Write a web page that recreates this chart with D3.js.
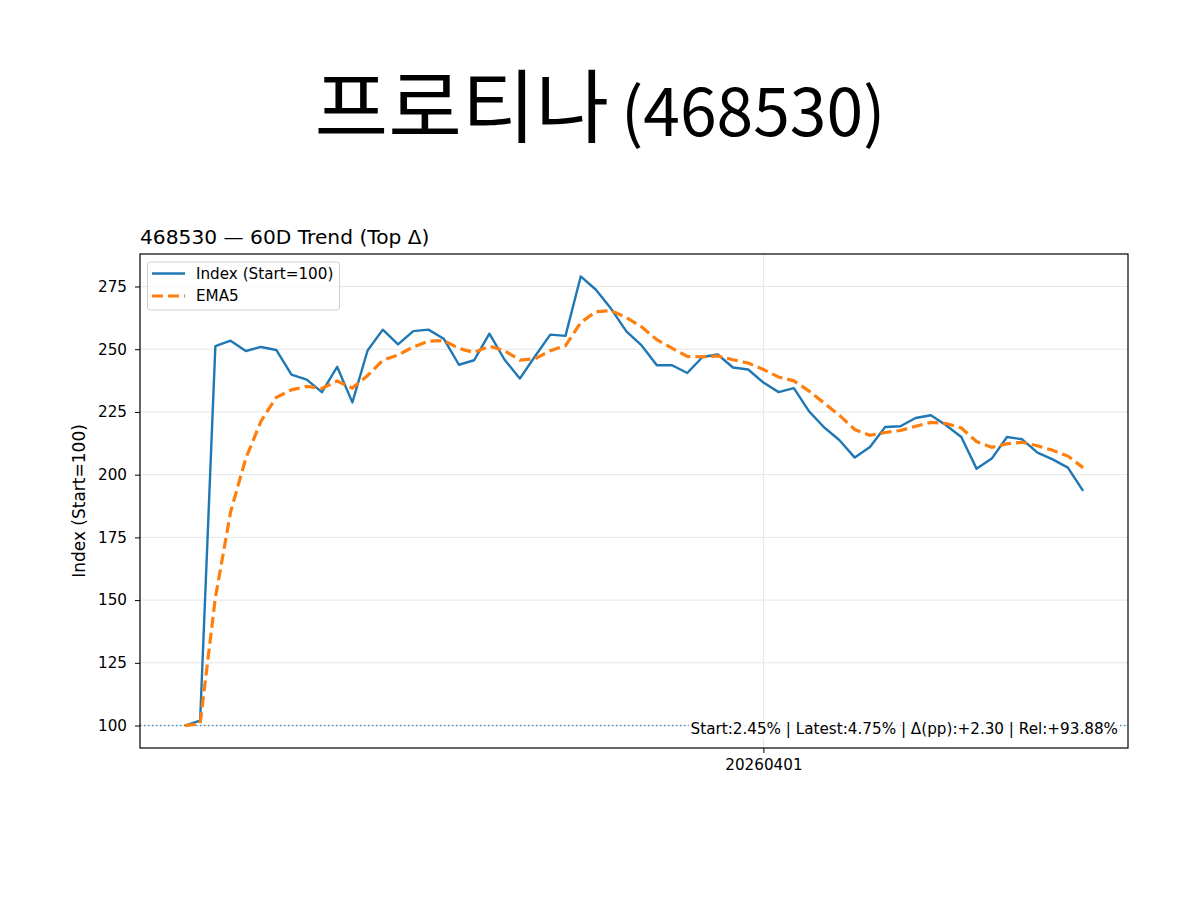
<!DOCTYPE html>
<html>
<head>
<meta charset="utf-8">
<script src="https://cdn.jsdelivr.net/npm/d3@7"></script>
<style>
  body { margin: 0; background: #fff; }
  svg { display: block; }
</style>
</head>
<body>
<script>
// title texts
var titleName = "프로티나";
var titleCode = "(468530)";
var subTitle = "468530 — 60D Trend (Top Δ)";
var yLabel = "Index (Start=100)";
var statsText = "Start:2.45% | Latest:4.75% | Δ(pp):+2.30 | Rel:+93.88%";

// index series (start = 100), 60 trading days
var indexValues = [
  100.0, 102.0, 251.2, 253.4, 249.3, 250.9, 249.7, 239.9, 237.9, 232.9,
  243.0, 228.8, 249.5, 257.8, 251.9, 257.2, 257.8, 254.2, 243.8, 245.6,
  256.2, 245.8, 238.3, 247.2, 255.8, 255.3, 279.0, 273.7, 266.1, 257.1,
  251.5, 243.6, 243.6, 240.5, 246.9, 247.9, 242.7, 241.9, 236.7, 232.9,
  234.5, 225.2, 218.8, 213.7, 206.8, 211.0, 219.0, 219.3, 222.6, 223.7,
  219.7, 215.0, 202.4, 206.4, 215.0, 214.1, 208.8, 206.1, 202.8, 193.5
];

// EMA5 line
var emaValues = [
  100.0, 100.7, 150.9, 185.1, 206.5, 221.3, 230.8, 233.8, 235.2, 234.4,
  237.3, 234.5, 239.5, 245.6, 247.7, 250.9, 253.2, 253.5, 250.3, 248.7,
  251.2, 249.4, 245.7, 246.2, 249.4, 251.4, 260.6, 265.0, 265.4, 262.6,
  258.9, 253.8, 250.4, 247.1, 247.0, 247.3, 245.8, 244.5, 241.9, 238.9,
  237.4, 233.3, 228.5, 223.6, 218.0, 215.7, 216.8, 217.6, 219.3, 220.8,
  220.4, 218.6, 213.2, 210.9, 212.3, 212.9, 211.5, 209.7, 207.4, 202.8
];

// ticks
var xTickIndex = [38];
var xTickLabels = ["20260401"];
var yTicks = [100, 125, 150, 175, 200, 225, 250, 275];

var legendLabels = ["Index (Start=100)", "EMA5"];

window.onload = drawChart;

function drawChart() {
    var width = 1200, height = 900;
    var left = 140, right = 1128, top = 254, bottom = 748;
    var font = "'DejaVu Sans', sans-serif";
    var blue = "#1f77b4", orange = "#ff7f0e";

    var svg = d3.select("body").append("svg")
        .attr("width", width)
        .attr("height", height);

    // big title (korean name a bit larger than the code)
    var tt = svg.append("text")
        .attr("x", 600)
        .attr("y", 136)
        .attr("text-anchor", "middle")
        .attr("font-family", "'Noto Sans CJK KR', sans-serif");
    tt.append("tspan").attr("font-size", 80).text(titleName);
    tt.append("tspan").attr("font-size", 66).attr("dx", 12).text(titleCode);

    // scales with matplotlib-like 5% margins
    var n = indexValues.length;
    var xPad = (n - 1) * 0.05;
    var x = d3.scaleLinear()
        .domain([-xPad, n - 1 + xPad])
        .range([left, right]);

    var all = indexValues.concat(emaValues);
    var yMin = d3.min(all), yMax = d3.max(all);
    var yPad = (yMax - yMin) * 0.05;
    var y = d3.scaleLinear()
        .domain([yMin - yPad, yMax + yPad])
        .range([bottom, top]);

    // grid
    svg.append("g")
        .selectAll("line")
        .data(yTicks)
        .enter()
        .append("line")
        .attr("x1", left).attr("x2", right)
        .attr("y1", d => y(d)).attr("y2", d => y(d))
        .attr("stroke", "#e6e6e6")
        .attr("stroke-width", 1);

    svg.append("g")
        .selectAll("line")
        .data(xTickIndex)
        .enter()
        .append("line")
        .attr("x1", d => x(d)).attr("x2", d => x(d))
        .attr("y1", top).attr("y2", bottom)
        .attr("stroke", "#e6e6e6")
        .attr("stroke-width", 1);

    // baseline at 100
    svg.append("line")
        .attr("x1", left).attr("x2", right)
        .attr("y1", y(100)).attr("y2", y(100))
        .attr("stroke", blue)
        .attr("stroke-opacity", 0.8)
        .attr("stroke-width", 1.4)
        .attr("stroke-dasharray", "1.4,2.6");

    var line = d3.line()
        .x((d, i) => x(i))
        .y(d => y(d));

    svg.append("path")
        .datum(indexValues)
        .attr("d", line)
        .attr("fill", "none")
        .attr("stroke", blue)
        .attr("stroke-width", 2.4)
        .attr("stroke-linejoin", "round");

    svg.append("path")
        .datum(emaValues)
        .attr("d", line)
        .attr("fill", "none")
        .attr("stroke", orange)
        .attr("stroke-width", 3.2)
        .attr("stroke-dasharray", "11,5");

    // stats text with white box
    var stats = svg.append("g");
    var st = stats.append("text")
        .attr("x", right - 10)
        .attr("y", 734)
        .attr("text-anchor", "end")
        .attr("font-family", font)
        .attr("font-size", 15.2)
        .text(statsText);
    var bb = st.node().getBBox();
    stats.insert("rect", "text")
        .attr("x", bb.x - 2).attr("y", bb.y)
        .attr("width", bb.width + 4).attr("height", bb.height)
        .attr("fill", "#fff")
        .attr("fill-opacity", 0.8);

    // axes
    var yAxis = svg.append("g")
        .attr("transform", "translate(" + left + ",0)")
        .call(d3.axisLeft(y).tickValues(yTicks).tickSize(5).tickPadding(8));
    var xAxis = svg.append("g")
        .attr("transform", "translate(0," + bottom + ")")
        .call(d3.axisBottom(x).tickValues(xTickIndex)
            .tickFormat((d, i) => xTickLabels[i]).tickSize(5).tickPadding(6));
    [yAxis, xAxis].forEach(function(g) {
        g.select(".domain").remove();
        g.selectAll("text").attr("font-family", font).attr("font-size", 15.2).attr("fill", "#000");
        g.selectAll("line").attr("stroke", "#000");
    });

    // frame
    svg.append("rect")
        .attr("x", left).attr("y", top)
        .attr("width", right - left).attr("height", bottom - top)
        .attr("fill", "none")
        .attr("stroke", "#000")
        .attr("stroke-width", 1.2);

    // subtitle
    svg.append("text")
        .attr("x", left)
        .attr("y", 244)
        .attr("font-family", font)
        .attr("font-size", 20.2)
        .text(subTitle);

    // y label
    svg.append("text")
        .attr("transform", "translate(85," + ((top + bottom) / 2) + ") rotate(-90)")
        .attr("text-anchor", "middle")
        .attr("font-family", font)
        .attr("font-size", 17)
        .text(yLabel);

    // legend
    var lg = svg.append("g");
    lg.append("rect")
        .attr("x", 147.5).attr("y", 262)
        .attr("width", 192).attr("height", 48)
        .attr("rx", 3)
        .attr("fill", "#fff").attr("fill-opacity", 0.8)
        .attr("stroke", "#d0d0d0");
    var items = lg.selectAll("g.item")
        .data(legendLabels)
        .enter()
        .append("g")
        .attr("transform", (d, i) => "translate(0," + (273.5 + i * 22.5) + ")");
    items.append("line")
        .attr("x1", 152).attr("x2", 185)
        .attr("stroke", (d, i) => i ? orange : blue)
        .attr("stroke-width", (d, i) => i ? 3.2 : 2.4)
        .attr("stroke-dasharray", (d, i) => i ? "11,5" : null);
    items.append("text")
        .attr("x", 196)
        .attr("y", 5)
        .attr("font-family", font)
        .attr("font-size", 15.2)
        .text(d => d);
}
</script>
</body>
</html>
